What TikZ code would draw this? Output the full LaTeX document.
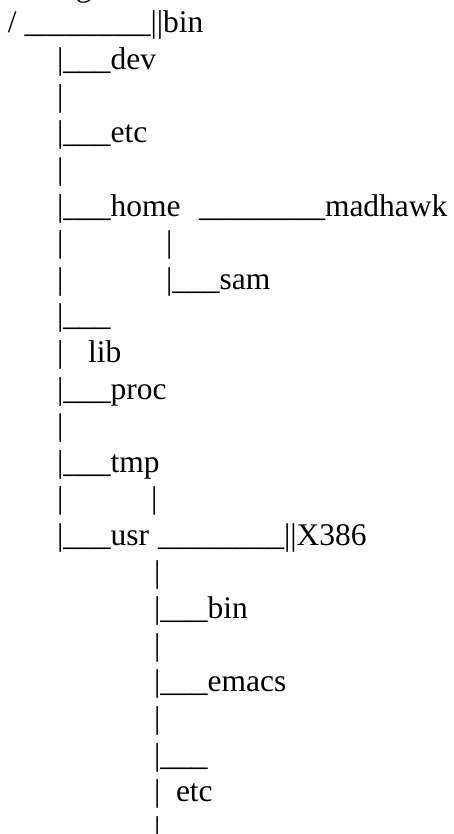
\documentclass[tikz,border=0pt]{standalone}
\usepackage{fontspec}
\setmainfont{Liberation Serif}
\begin{document}
\begin{tikzpicture}[x=1pt,y=-1pt,
  tx/.style={anchor=base west, inner sep=0pt, outer sep=0pt, font=\fontsize{31.5}{36}\selectfont}]
\useasboundingbox (0,0) rectangle (453,834);
\clip (0,0) rectangle (453,834);
\def\ly#1{\fpeval{33+(#1-1)*36.6}}
\node[tx] (g) at (76,-3) {g};
\node[tx] (l1) at (8,{\ly{1}}) {/ \_\_\_\_\_\_\_\_||bin};
\node[tx] (l2) at (57,{\ly{2}}) {|\_\_\_dev};
\node[tx] (l3) at (57,{\ly{3}}) {|};
\node[tx] (l4) at (57,{\ly{4}}) {|\_\_\_etc};
\node[tx] (l5) at (57,{\ly{5}}) {|};
\node[tx] (l6) at (57,{\ly{6}}) {|\_\_\_home};
\node[tx] (l6b) at (199,{\ly{6}}) {\_\_\_\_\_\_\_\_madhawk};
\node[tx] (l7) at (57,{\ly{7}}) {|};
\node[tx] (l7b) at (166,{\ly{7}}) {|};
\node[tx] (l8) at (57,{\ly{8}}) {|};
\node[tx] (l8b) at (166,{\ly{8}}) {|\_\_\_sam};
\node[tx] (l9) at (57,{\ly{9}}) {|\_\_\_};
\node[tx] (l10) at (57,{\ly{10}}) {|};
\node[tx] (l10b) at (88,{\ly{10}}) {lib};
\node[tx] (l11) at (57,{\ly{11}}) {|\_\_\_proc};
\node[tx] (l12) at (57,{\ly{12}}) {|};
\node[tx] (l13) at (57,{\ly{13}}) {|\_\_\_tmp};
\node[tx] (l14) at (57,{\ly{14}}) {|};
\node[tx] (l14b) at (151,{\ly{14}}) {|};
\node[tx] (l15) at (57,{\ly{15}}) {|\_\_\_usr};
\node[tx] (l15b) at (158,{\ly{15}}) {\_\_\_\_\_\_\_\_||X386};
\node[tx] (l16) at (154,{\ly{16}}) {|};
\node[tx] (l17) at (154,{\ly{17}}) {|\_\_\_bin};
\node[tx] (l18) at (154,{\ly{18}}) {|};
\node[tx] (l19) at (154,{\ly{19}}) {|\_\_\_emacs};
\node[tx] (l20) at (154,{\ly{20}}) {|};
\node[tx] (l21) at (154,{\ly{21}}) {|\_\_\_};
\node[tx] (l22) at (154,{\ly{22}}) {|};
\node[tx] (l22b) at (176,{\ly{22}}) {etc};
\node[tx] (l23) at (154,{\ly{23}}) {|};
\end{tikzpicture}
\end{document}
